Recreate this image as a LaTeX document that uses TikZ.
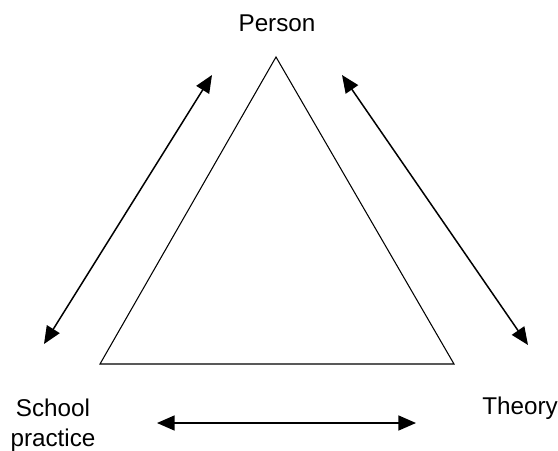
\documentclass[tikz,border=0pt]{standalone}
\usepackage{fontspec}
\setmainfont{Liberation Sans}
\usetikzlibrary{arrows.meta}

\begin{document}
\begin{tikzpicture}[x=0.02cm, y=-0.02cm,
    label/.style={font=\fontsize{13.8}{17}\selectfont, align=center, inner sep=0pt},
    link/.style={{Triangle[length=10pt,width=8.5pt]}-{Triangle[length=10pt,width=8.5pt]}, line width=0.85pt}]
    \useasboundingbox (0,0) rectangle (558,450);

    % Triangle
    \coordinate (apex) at (276,57);
    \coordinate (bl) at (100,364);
    \coordinate (br) at (454,364);
    \draw[line width=0.6pt] (apex) -- (bl) -- (br) -- cycle;

    % Labels
    \node[label] (person) at (277,23) {Person};
    \node[label] (school) at (53,425) {School\\practice};
    \node[label] (theory) at (520,408) {Theory};

    % Arrow ends
    \coordinate (l1) at (212,75);
    \coordinate (l2) at (44,344);
    \coordinate (r1) at (342,75);
    \coordinate (r2) at (528,345);
    \coordinate (b1) at (157,423);
    \coordinate (b2) at (416,423);

    % Two-way arrows
    \draw[link] (l1) -- (l2);
    \draw[link] (r1) -- (r2);
    \draw[link] (b1) -- (b2);
\end{tikzpicture}
\end{document}
